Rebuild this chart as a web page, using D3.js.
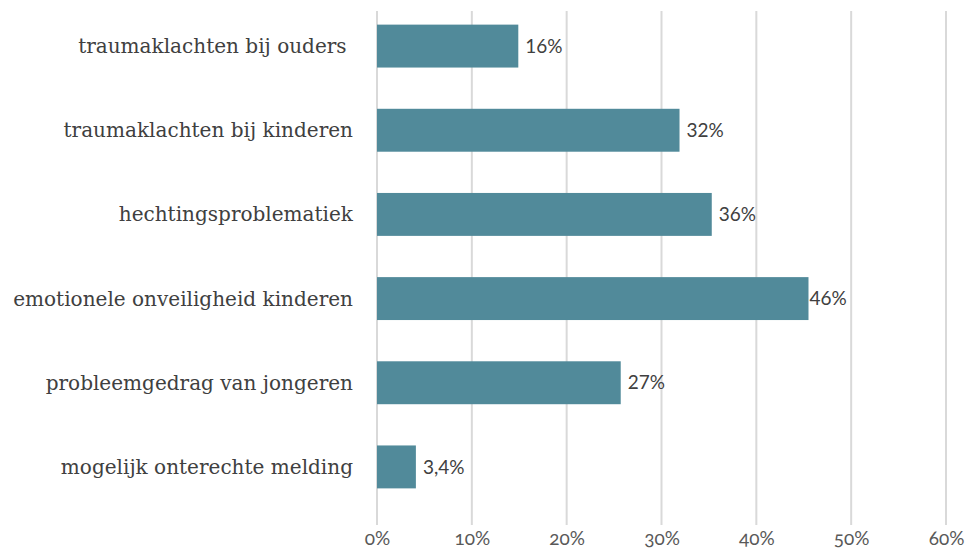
<!DOCTYPE html>
<html>
<head>
<meta charset="utf-8">
<script src="https://cdn.jsdelivr.net/npm/d3@7"></script>
<style>
  body { margin: 0; background: #fff; }
  #chart { width: 968px; height: 552px; }
</style>
</head>
<body>
<div id="chart"></div>
<script>
// categories top to bottom
const categories = [
  "traumaklachten bij ouders ",
  "traumaklachten bij kinderen",
  "hechtingsproblematiek",
  "emotionele onveiligheid kinderen",
  "probleemgedrag van jongeren",
  "mogelijk onterechte melding"
];
// bar lengths as drawn (percent)
const values = [14.9, 31.9, 35.3, 45.5, 25.7, 4.1];
// labels printed next to the bars
const valueLabels = ["16%", "32%", "36%", "46%", "27%", "3,4%"];
const ticks = [0, 10, 20, 30, 40, 50, 60];

const svg = d3.select("#chart").append("svg")
  .attr("width", 968)
  .attr("height", 552);

const x = d3.scaleLinear().domain([0, 60]).range([377, 946]);
const y = d3.scaleBand().domain(categories)
  .range([4, 509])
  .paddingInner(0.49)
  .paddingOuter(0.245);

// gridlines
svg.append("g")
  .selectAll("line")
  .data(ticks)
  .join("line")
  .attr("x1", d => x(d))
  .attr("x2", d => x(d))
  .attr("y1", 11)
  .attr("y2", 525)
  .attr("stroke", "#d9d9d9")
  .attr("stroke-width", 2);

// x axis labels
const xAxis = d3.axisBottom(x)
  .tickValues(ticks)
  .tickSize(0)
  .tickPadding(0)
  .tickFormat(d => d + "%");

svg.append("g")
  .attr("transform", "translate(0,531)")
  .call(xAxis)
  .call(g => g.select(".domain").remove())
  .selectAll("text")
  .attr("fill", "#595959")
  .style("font-family", "Lato, 'Open Sans', sans-serif")
  .style("font-size", "19px")
  .style("font-variant-numeric", "oldstyle-nums");

// bars
svg.append("g")
  .selectAll("rect")
  .data(categories)
  .join("rect")
  .attr("x", x(0))
  .attr("y", d => y(d))
  .attr("width", (d, i) => x(values[i]) - x(0))
  .attr("height", y.bandwidth())
  .attr("fill", "#518a9a");

// value labels
svg.append("g")
  .selectAll("text")
  .data(categories)
  .join("text")
  .attr("x", (d, i) => x(values[i]) + (i === 3 ? 1 : 7))
  .attr("y", d => y(d) + y.bandwidth() / 2)
  .attr("dy", "0.35em")
  .attr("fill", "#404040")
  .style("font-family", "Lato, 'Open Sans', sans-serif")
  .style("font-size", "19px")
  .text((d, i) => valueLabels[i]);

// category labels
const catLabels = svg.append("g")
  .selectAll("text")
  .data(categories)
  .join("text")
  .attr("x", 353)
  .attr("y", d => y(d) + y.bandwidth() / 2)
  .attr("dy", "0.35em")
  .attr("text-anchor", "end")
  .attr("fill", "#404040")
  .style("white-space", "pre")
  .style("font-family", "'DejaVu Serif', serif")
  .style("font-size", "17px")
  .text(d => d);

// fit longest label to the width seen in the reference
let longest = 0;
catLabels.each(function () { longest = Math.max(longest, this.getComputedTextLength()); });
const fs = 17 * 340 / longest;
catLabels.style("font-size", fs + "px");
</script>
</body>
</html>
